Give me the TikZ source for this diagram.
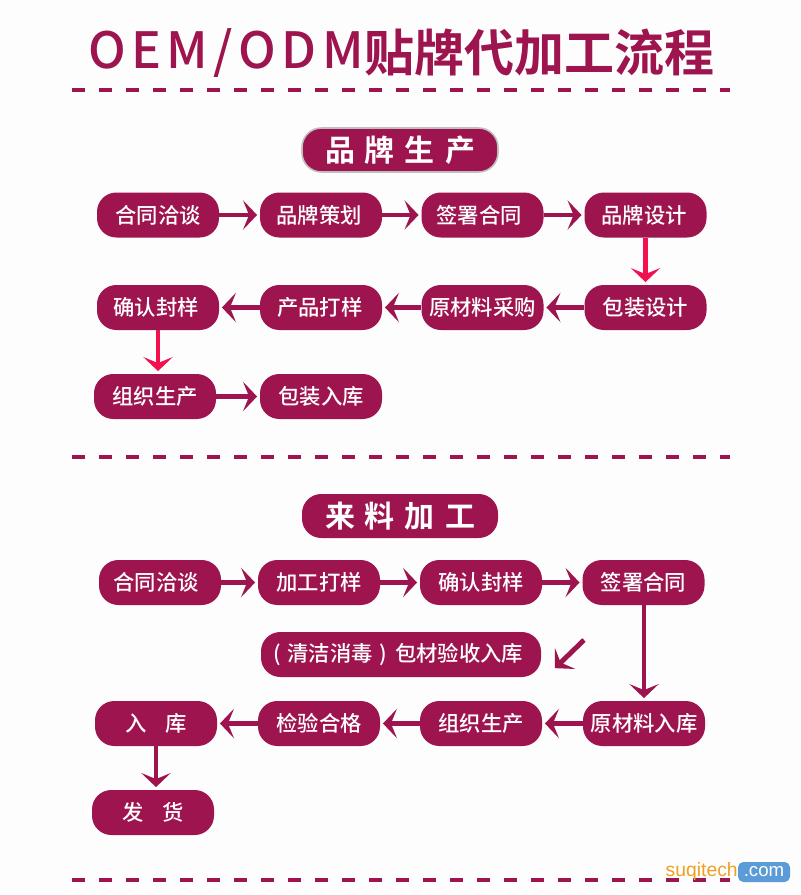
\documentclass[tikz,border=0pt]{standalone}
\usepackage{fontspec}
\usetikzlibrary{arrows.meta}
\setmainfont{Noto Sans CJK SC}[BoldFont=* Bold]
\newfontfamily\cjk{Noto Sans CJK SC}[BoldFont=* Bold]
\newfontfamily\cjkm{Noto Sans CJK SC Medium}
\newfontfamily\titlelatin{Noto Sans CJK SC Medium}[LetterSpace=11]
\newfontfamily\wmfont{Liberation Sans}
\definecolor{brand}{HTML}{9E144E}
\definecolor{hot}{HTML}{F2104F}
\definecolor{page}{HTML}{FDFDFD}
\definecolor{wmorange}{HTML}{F0A020}
\definecolor{wmblue}{HTML}{5B9BD8}
\tikzset{
  flow/.style={fill=brand,text=white,rounded corners=14.5pt,minimum width=91.5pt,minimum height=33.75pt,inner sep=0pt,font=\cjkm\fontsize{16pt}{18pt}\selectfont},
  widebox/.style={flow,minimum width=210pt},
  heading/.style={flow,minimum width=147pt,minimum height=33pt,font=\cjk\bfseries\fontsize{22.5pt}{26pt}\selectfont},
  link/.style={draw=brand,line width=3.7pt,-{Stealth[length=10.5pt,width=22pt,inset=4.5pt]},shorten >=2pt},
  redlink/.style={link,draw=hot},
  rule/.style={draw=brand,line width=2.8pt,dash pattern=on 10pt off 10.25pt},
}
\begin{document}
\begin{tikzpicture}[x=0.75pt,y=-0.75pt]
\useasboundingbox[fill=page] (0,0) rectangle (800,895);
% title
\node[text=brand,inner sep=0pt,anchor=west] (title) at (88,53) {\titlelatin\fontsize{37.5pt}{44pt}\selectfont OEM/ODM};
\node[text=brand,inner sep=0pt,anchor=west] (titlecn) at (364,53) {\cjk\bfseries\fontsize{37.5pt}{44pt}\selectfont 贴牌代加工流程};
% dashed rules
\coordinate (r1a) at (72,90); \coordinate (r1b) at (730,90);
\coordinate (r2a) at (72,457); \coordinate (r2b) at (730,457);
\coordinate (r3a) at (72,880); \coordinate (r3b) at (730,880);
\draw[rule] (r1a) -- (r1b);
\draw[rule] (r2a) -- (r2b);
\draw[rule] (r3a) -- (r3b);
% section 1
\node[heading,draw=black!25,line width=1.2pt] (h1) at (400,150) {品\hspace{7.5pt}牌\hspace{7.5pt}生\hspace{7.5pt}产};
\node[flow] (a1) at (158,215) {合同洽谈};
\node[flow] (a2) at (321,215) {\kern-3pt 品牌策划};
\node[flow] (a3) at (482.5,215) {\kern-5pt 签署合同};
\node[flow] (a4) at (645.5,215) {\kern-2pt 品牌设计};
\node[flow] (b4) at (645.5,307.5) {包装设计};
\node[flow] (b3) at (482.5,307.5) {原材料采购};
\node[flow] (b2) at (321,307.5) {\kern-2pt 产品打样};
\node[flow] (b1) at (158,307.5) {\kern-3pt 确认封样};
\node[flow] (c1) at (155,396.5) {组织生产};
\node[flow] (c2) at (321,396.5) {包装入库};
\draw[link] (a1) -- (a2);
\draw[link] (a2) -- (a3);
\draw[link] (a3) -- (a4);
\draw[redlink] (a4) -- (b4);
\draw[link] (b4) -- (b3);
\draw[link] (b3) -- (b2);
\draw[link] (b2) -- (b1);
\draw[redlink] (b1) -- (b1|-c1.north);
\draw[link] (c1) -- (c2);
% section 2
\node[heading] (h2) at (400,516) {来\hspace{7.5pt}料\hspace{7.5pt}加\hspace{7.5pt}工};
\node[flow] (d1) at (160,582.5) {\kern-6pt 合同洽谈};
\node[flow] (d2) at (319,582.5) {加工打样};
\node[flow] (d3) at (481,582.5) {确认封样};
\node[flow] (d4) at (643.5,582.5) {签署合同};
\node[widebox] (w) at (401,654.5) {\kern-4pt (\hspace{5pt}清洁消毒\hspace{5pt})\hspace{6pt}包材验收入库};
\node[flow] (e4) at (644,723.5) {原材料入库};
\node[flow] (e3) at (481,723.5) {组织生产};
\node[flow] (e2) at (319,723.5) {检验合格};
\node[flow] (e1) at (156,723.5) {入\hspace{14pt}库};
\node[flow] (f1) at (153,812.5) {发\hspace{14pt}货};
\draw[link] (d1) -- (d2);
\draw[link] (d2) -- (d3);
\draw[link] (d3) -- (d4);
\draw[link] (d4.south-|e4) -- (e4);
\draw[link] (e4) -- (e3);
\draw[link] (e3) -- (e2);
\draw[link] (e2) -- (e1);
\draw[link] (e1) -- (e1|-f1.north);
\coordinate (diagA) at (584,640); \coordinate (diagB) at (553,670);
\draw[link] (diagA) -- (diagB);
% watermark
\node[fill=wmblue,text=white,rounded corners=4pt,inner sep=0pt,minimum width=39pt,minimum height=15pt,font=\wmfont\fontsize{14pt}{14pt}\selectfont] (wmb) at (764,872) {.com};
\node[text=wmorange,inner sep=0pt,anchor=east,font=\wmfont\fontsize{14.5pt}{16pt}\selectfont] (wma) at (738,871) {suqitech};
\end{tikzpicture}
\end{document}
